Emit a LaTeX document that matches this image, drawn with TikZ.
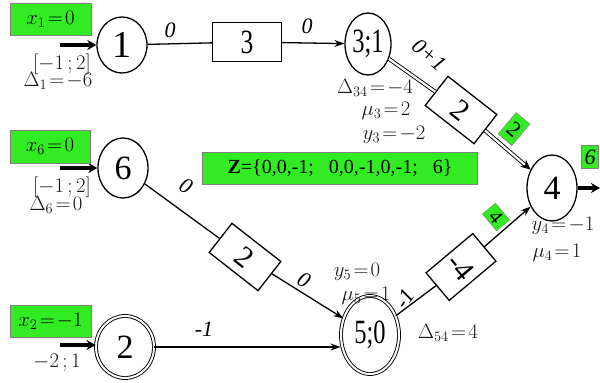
\documentclass[tikz,border=0pt]{standalone}
\usepackage{fontspec}
\setmainfont{Liberation Serif}
\usetikzlibrary{shapes.geometric,arrows.meta}
\definecolor{gr}{RGB}{50,235,35}
\begin{document}
\begin{tikzpicture}[x=1pt,y=-1pt,
 vert/.style={ellipse,draw,line width=1.3pt,inner sep=0pt,font=\fontsize{34}{34}\selectfont},
 dvert/.style={vert,double,double distance=2pt,line width=0.9pt},
 arcbox/.style={draw,line width=1.3pt,inner sep=0pt,minimum width=62pt,minimum height=37pt,font=\fontsize{30}{30}\selectfont},
 grn/.style={fill=gr,draw=black!50,line width=0.4pt,inner sep=0pt,font=\fontsize{21}{21}\selectfont},
 lab/.style={font=\fontsize{21}{21}\selectfont,inner sep=0pt,text=black!90},
 elab/.style={font=\itshape\fontsize{22}{22}\selectfont,inner sep=0pt},
 ln/.style={line width=1.3pt},
 ar/.style={ln,-{Stealth[length=10pt,width=7pt]}},
 dar/.style={line width=0.9pt,double,double distance=2.2pt},
 inar/.style={line width=4pt,-{Stealth[length=9pt,width=10pt]}},
]
\useasboundingbox (0,0) rectangle (600,383);
% vertices
\node[vert,minimum width=50pt,minimum height=56pt,font=\fontsize{38}{38}\selectfont] (n1) at (122,45) {1};
\node[vert,minimum width=46pt,minimum height=62pt] (n3) at (368,44) {\scalebox{0.72}[1]{3;1}};
\node[vert,minimum width=50pt,minimum height=60pt] (n6) at (123,168) {6};
\node[dvert,minimum width=58pt,minimum height=62pt] (n2) at (125,347) {2};
\node[dvert,minimum width=58pt,minimum height=78pt] (n5) at (370,335) {\scalebox{0.72}[1]{5;0}};
\node[vert,minimum width=50pt,minimum height=66pt] (n4) at (552,188) {4};
% arc boxes
\node[arcbox,minimum width=69pt,minimum height=39pt,font=\fontsize{34}{34}\selectfont] (b3) at (247,42) {\scalebox{0.75}[1]{3}};
\node[arcbox,rotate=-38] (b2a) at (461,110) {2};
\node[arcbox,rotate=-38] (b2b) at (245,257) {2};
\node[arcbox,rotate=-50,minimum width=36pt,minimum height=61pt] (b4) at (461,267) {-4};
% connectors
\draw[ln] (n1) -- (b3);
\draw[ar] (b3) -- (n3);
\draw[dar] (n3) -- (b2a);
\draw[dar,-{Stealth[length=10pt,width=9pt]}] (b2a) -- (n4);
\draw[ln] (n6) -- (b2b);
\draw[ar] (b2b) -- (n5);
\draw[ar] (n2.east) -- (n5.west |- n2.east);
\draw[ln] (n5) -- (b4);
\draw[ar] (b4) -- (n4);
% input / output arrows
\coordinate (i1) at (60,45);
\coordinate (i6) at (60,168);
\coordinate (i2) at (60,345);
\coordinate (o4) at (600,188);
\draw[inar] (i1) -- (n1.west);
\draw[inar] (i6) -- (n6.west);
\draw[inar] (i2) -- (n2.west |- i2);
\draw[inar] (n4.east) -- (o4);
% green labels
\node[grn,minimum width=81pt,minimum height=32pt] (gx1) at (50.5,19) {$x_1\!=\!0$};
\node[grn,minimum width=80pt,minimum height=33pt] (gx6) at (50,146.5) {$x_6\!=\!0$};
\node[grn,minimum width=81pt,minimum height=32pt] (gx2) at (50.5,321) {$x_2\!=\!-1$};
\node[grn,minimum width=275pt,minimum height=32pt,font=\fontsize{20}{20}\selectfont] (gz) at (340,168) {\textbf{Z}=\{0,0,-1;~~~0,0,-1,0,-1;~~~6\}};
\node[grn,rotate=-40,minimum width=18pt,minimum height=28pt,font=\fontsize{22}{22}\selectfont] (g2) at (514,129) {2};
\node[grn,rotate=-50,minimum width=22pt,minimum height=17pt,font=\fontsize{20}{20}\selectfont] (g4) at (496,217) {4};
\node[grn,minimum width=17pt,minimum height=23pt,font=\itshape\fontsize{22}{22}\selectfont] (g6) at (590,157) {6};
% vertex labels
\node[lab] (r1) at (62,64) {$[-1\,;2]$};
\node[lab] (d1) at (58,81) {$\Delta_1\!=\!-6$};
\node[lab] (r6) at (62,187) {$[-1\,;2]$};
\node[lab] (d6) at (56,205) {$\Delta_6\!=\!0$};
\node[lab] (r2) at (57,363) {$-2\,;1$};
\node[lab] (d34) at (375,88) {$\Delta_{34}\!=\!-4$};
\node[lab] (m3) at (386,111) {$\mu_3\!=\!2$};
\node[lab] (y3) at (394,135) {$y_3\!=\!-2$};
\node[lab] (y5) at (357,272) {$y_5\!=\!0$};
\node[lab] (m5) at (366,296) {$\mu_5\!=\!1$};
\node[lab] (d54) at (448,333) {$\Delta_{54}\!=\!4$};
\node[lab] (y4) at (563,226) {$y_4\!=\!-1$};
\node[lab] (m4) at (557,253) {$\mu_4\!=\!1$};
% connector labels
\node[elab] (e13) at (170,30) {0};
\node[elab] (e33) at (307,26) {0};
\node[elab,rotate=-40] (e34) at (429,55) {0+1};
\node[elab,rotate=-30] (e62) at (186,186) {0};
\node[elab,rotate=-30] (e25) at (304,280) {0};
\node[elab] (e25b) at (204,329) {-1};
\node[elab,rotate=55] (e54) at (405,299) {-1};
\end{tikzpicture}
\end{document}
